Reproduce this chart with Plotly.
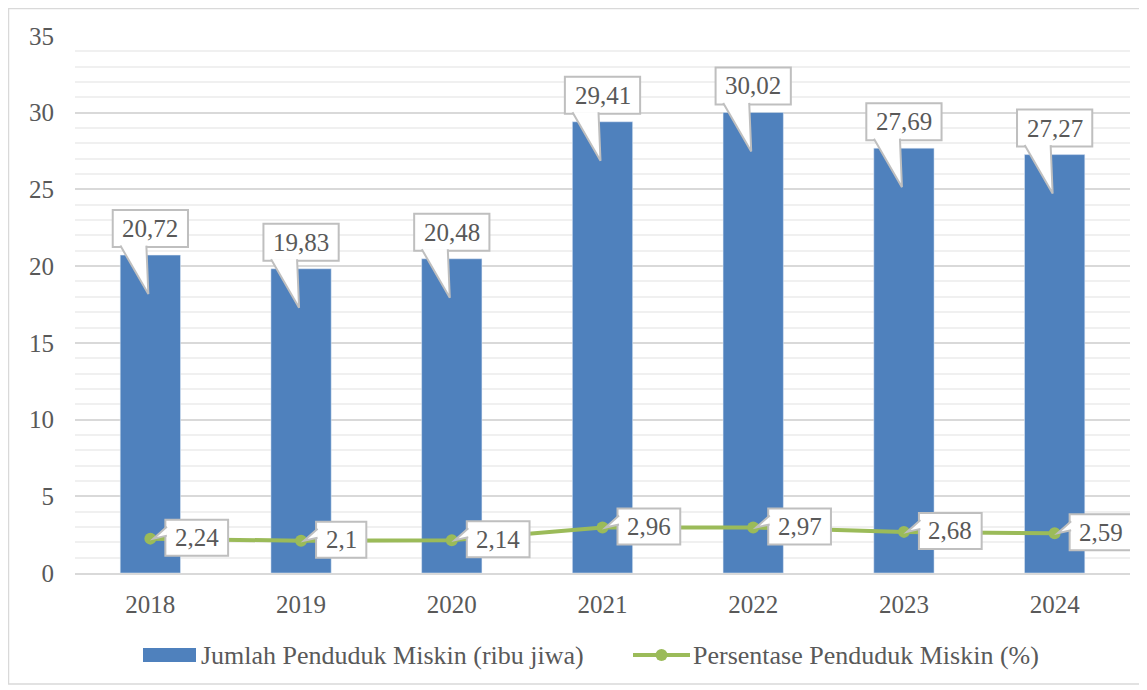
import plotly.graph_objects as go

# ---------------------------------------------------------------------------
# Data
# ---------------------------------------------------------------------------
years = [2018, 2019, 2020, 2021, 2022, 2023, 2024]
jumlah_miskin = [20.72, 19.83, 20.48, 29.41, 30.02, 27.69, 27.27]   # ribu jiwa
persen_miskin = [2.24, 2.10, 2.14, 2.96, 2.97, 2.68, 2.59]          # %

BAR_NAME = "Jumlah Penduduk Miskin (ribu jiwa)"
LINE_NAME = "Persentase Penduduk Miskin (%)"

# ---------------------------------------------------------------------------
# Styling
# ---------------------------------------------------------------------------
# the page body keeps its default 8px margin, so the figure is shrunk by it
OFF = 8
W, H = 1147 - OFF, 690 - OFF
M_L, M_R, M_T, M_B = 67, 17, 28, 117
PW, PH = W - M_L - M_R, H - M_T - M_B

BLUE = "#4f81bd"
GREEN = "#9bbb59"
TEXT = "#595959"
BORDER = "#bfbfbf"
FONT = "Liberation Serif"
LABEL_SIZE = 25


def fmt(v):
    """Indonesian decimal style: comma separator, no trailing zeros."""
    s = f"{v:.2f}".rstrip("0").rstrip(".")
    return s.replace(".", ",")


def text_width(s, size):
    # Times/Liberation Serif metrics: digits 0.5em, comma 0.25em
    return sum(0.25 if c == "," else 0.5 for c in s) * size


def px_x(p):
    """page pixel -> paper x"""
    return (p - OFF - M_L) / PW


def px_y(p):
    """page pixel -> paper y"""
    return (H - M_B - (p - OFF)) / PH


fig = go.Figure()
fig.add_bar(x=years, y=jumlah_miskin, name=BAR_NAME, marker_color=BLUE,
            width=0.4, showlegend=False)
fig.add_scatter(x=years, y=persen_miskin, name=LINE_NAME, mode="lines+markers",
                line=dict(color=GREEN, width=4), marker=dict(size=12, color=GREEN),
                showlegend=False)

shapes = []
annotations = []

# callout labels for the bars: box above, pointer down into the bar
for yr, v in zip(years, jumlah_miskin):
    label = fmt(v)
    w = text_width(label, LABEL_SIZE) + 19
    common = dict(xref="x", yref="y", xsizemode="pixel", ysizemode="pixel",
                  xanchor=yr, yanchor=v, layer="above")
    shapes.append(dict(type="rect", x0=-w / 2, x1=w / 2, y0=8, y1=45,
                       fillcolor="white", line=dict(color=BORDER, width=2), **common))
    shapes.append(dict(type="path", path="M -30,9.5 L -2,-39 L -4,9.5",
                       fillcolor="white", line=dict(color=BORDER, width=2), **common))
    annotations.append(dict(x=yr, y=v, text=label, showarrow=False, yshift=26.5,
                            font=dict(family=FONT, size=LABEL_SIZE, color=TEXT)))

# callout labels for the line: box to the right, pointer back to the marker
for yr, v in zip(years, persen_miskin):
    label = fmt(v)
    w = text_width(label, LABEL_SIZE) + 19
    common = dict(xref="x", yref="y", xsizemode="pixel", ysizemode="pixel",
                  xanchor=yr, yanchor=v, layer="above")
    shapes.append(dict(type="rect", x0=15, x1=15 + w, y0=-17, y1=19,
                       fillcolor="white", line=dict(color=BORDER, width=2), **common))
    shapes.append(dict(type="path", path="M 16.5,12 L 3,0 L 16.5,3",
                       fillcolor="white", line=dict(color=BORDER, width=2), **common))
    annotations.append(dict(x=yr, y=v, text=label, showarrow=False,
                            xshift=15 + w / 2, yshift=1,
                            font=dict(family=FONT, size=LABEL_SIZE, color=TEXT)))

# outer chart border
shapes.append(dict(type="rect", xref="paper", yref="paper",
                   x0=px_x(8.5), x1=px_x(1140), y0=px_y(684), y1=px_y(8.5),
                   line=dict(color="#d9d9d9", width=1.5), layer="below"))

# hand-drawn legend (wide swatch like the original)
leg_y = px_y(655)
shapes.append(dict(type="rect", xref="paper", yref="paper",
                   x0=px_x(143), x1=px_x(196), y0=px_y(662), y1=px_y(648),
                   fillcolor=BLUE, line=dict(width=0)))
shapes.append(dict(type="line", xref="paper", yref="paper",
                   x0=px_x(633), x1=px_x(690), y0=leg_y, y1=leg_y,
                   line=dict(color=GREEN, width=4)))
shapes.append(dict(type="circle", xref="paper", yref="paper",
                   xsizemode="pixel", ysizemode="pixel",
                   xanchor=px_x(661.5), yanchor=leg_y, x0=-6, x1=6, y0=-6, y1=6,
                   fillcolor=GREEN, line=dict(width=0)))
annotations.append(dict(xref="paper", yref="paper", x=px_x(199), y=leg_y,
                        xanchor="left", yanchor="middle", text=BAR_NAME, showarrow=False,
                        font=dict(family=FONT, size=26, color=TEXT)))
annotations.append(dict(xref="paper", yref="paper", x=px_x(691), y=leg_y,
                        xanchor="left", yanchor="middle", text=LINE_NAME, showarrow=False,
                        font=dict(family=FONT, size=26, color=TEXT)))

fig.update_layout(
    width=W, height=H,
    margin=dict(l=M_L, r=M_R, t=M_T, b=M_B),
    paper_bgcolor="white", plot_bgcolor="white",
    font=dict(family=FONT, size=25, color=TEXT),
    showlegend=False,
    shapes=shapes,
    annotations=annotations,
    xaxis=dict(range=[years[0] - 0.5, years[-1] + 0.5], tickvals=years,
               ticktext=[str(y) for y in years], showgrid=False, zeroline=False,
               showline=True, linecolor="#d9d9d9", linewidth=2,
               ticks="", ticklabelstandoff=8),
    yaxis=dict(range=[0, 35], dtick=5, showgrid=True, gridcolor="#d9d9d9",
               gridwidth=2, zeroline=False, ticks="", ticklabelstandoff=20,
               minor=dict(dtick=1, showgrid=True, gridcolor="#f0f0f0", gridwidth=2)),
)

fig.write_html("out.html")
